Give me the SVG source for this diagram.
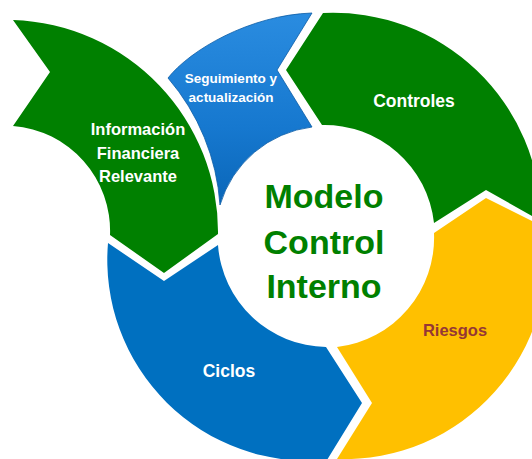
<svg xmlns="http://www.w3.org/2000/svg" width="532" height="459" viewBox="0 0 532 459">
<defs>
<linearGradient id="gBlueTop" x1="0" y1="0" x2="0" y2="1">
<stop offset="0" stop-color="#2a8ce0"/>
<stop offset="0.6" stop-color="#1678cf"/>
<stop offset="1" stop-color="#0a66b8"/>
</linearGradient>
<style>
.lbl{font-family:"Liberation Sans",Arial,sans-serif;font-weight:bold;fill:#ffffff;text-anchor:middle}
.center{font-family:"Liberation Sans",Arial,sans-serif;font-weight:bold;fill:#008000;text-anchor:middle;font-size:34px}
.green{fill:#008000}
</style>
</defs>
<rect width="532" height="459" fill="#ffffff"/>
<g id="informacion">
<path class="green" d="M13,20 A212 212 0 0 1 218,234 L164,273 L110,235 A105 105 0 0 0 13,126 L50,72 Z"/>
<text class="lbl" font-size="16.5" x="138" y="135">Información</text>
<text class="lbl" font-size="16.5" x="138" y="159">Financiera</text>
<text class="lbl" font-size="16.5" x="138" y="182">Relevante</text>
</g>
<g id="seguimiento">
<path d="M168,78 C190,50 250,15 312,13 L277,70 L312,127 A110 110 0 0 0 220,205 A218 218 0 0 0 168,78 Z" fill="url(#gBlueTop)" stroke="#0a5ca6" stroke-width="0.8"/>
<text class="lbl" font-size="13.5" x="231" y="83">Seguimiento y</text>
<text class="lbl" font-size="13.5" x="231" y="102">actualización</text>
</g>
<g id="controles">
<path class="green" d="M323,13 A208 208 0 0 1 541,221 L486,190 L434,223 A110 110 0 0 0 322,125 L286,70 Z"/>
<text class="lbl" font-size="17.5" x="414" y="107">Controles</text>
</g>
<g id="riesgos">
<path d="M486,198 L544,227 A202 202 0 0 1 337,459 L372,403 L337,347 A110 110 0 0 0 434,233 Z" fill="#ffc000"/>
<text class="lbl" font-size="16.5" x="455" y="336" style="fill:#953735">Riesgos</text>
</g>
<g id="ciclos">
<path d="M108,243 L164,281 L218,245 A110 110 0 0 0 326,347 L362,403 L327,460 A201 201 0 0 1 108,243 Z" fill="#0070c0"/>
<text class="lbl" font-size="17.5" x="229" y="377">Ciclos</text>
</g>
<g id="modelo">
<text class="center" x="324" y="208">Modelo</text>
<text class="center" x="324" y="254">Control</text>
<text class="center" x="324" y="298">Interno</text>
</g>
<g id="connectors"/>
</svg>
